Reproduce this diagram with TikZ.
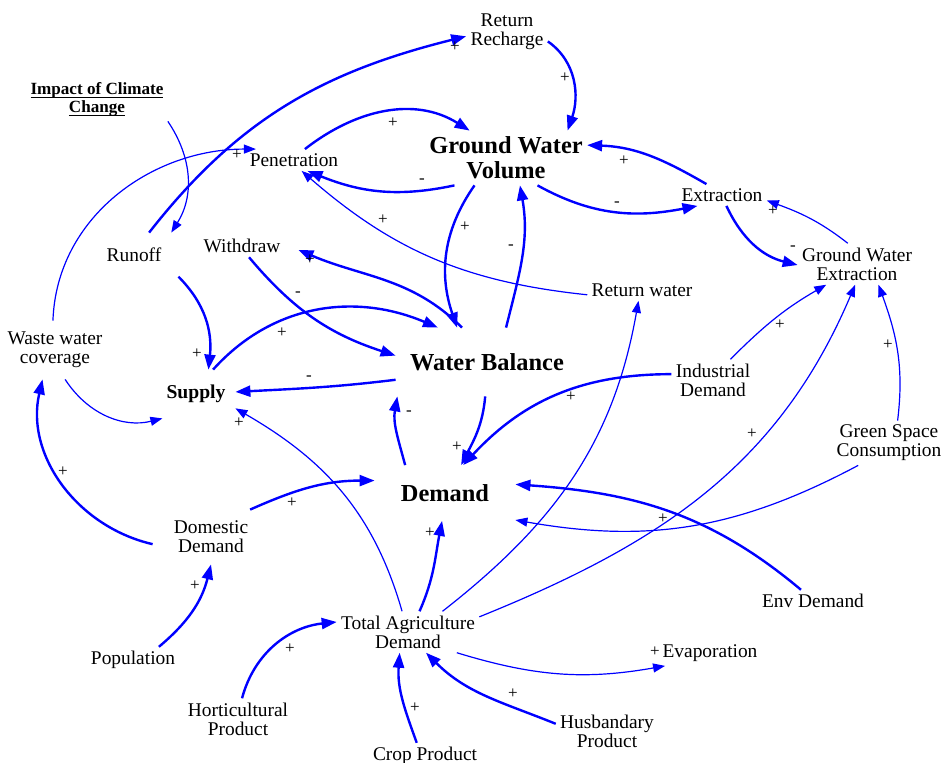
\documentclass[tikz,border=0pt]{standalone}
\usepackage{fontspec}
\setmainfont{Liberation Serif}
\usetikzlibrary{arrows.meta}
\definecolor{linkblue}{RGB}{0,0,255}
\tikzset{
  var/.style={inner sep=2pt, align=center, yshift=-1pt, font=\fontsize{9.7}{9.5}\selectfont},
  key/.style={inner sep=2pt, align=center, font=\fontsize{12.2}{12.5}\selectfont\bfseries},
  sgn/.style={inner sep=0pt, font=\fontsize{8.5}{8.5}\selectfont},
  thk/.style={color=linkblue, line width=1.2pt, -{Triangle[length=7.5pt,width=5.5pt]}},
  thn/.style={color=linkblue, line width=0.6pt, -{Triangle[length=6pt,width=4.5pt]}}
}
\begin{document}
\begin{tikzpicture}[x=0.5pt,y=-0.5pt]
  \useasboundingbox (0,0) rectangle (945,763);
  \node[var] (rr) at (507,30) {Return\\Recharge};
  \node[var, font=\fontsize{8.55}{9}\selectfont\bfseries] (icc) at (97,104) {\underline{\smash{Impact of Climate}}\\\underline{\smash{Change}}};
  \node[var] (pen) at (294,158) {Penetration};
  \node[key, minimum height=27pt] (gwv) at (506,158) {Ground Water\\Volume};
  \node[var] (ext) at (722,193) {Extraction};
  \node[var, minimum width=44pt, minimum height=22pt] (run) at (134,253) {Runoff};
  \node[var, minimum width=56pt] (wd) at (242,244) {Withdraw};
  \node[var] (gwe) at (857,262) {Ground Water\\Extraction};
  \node[var] (rw) at (642,288) {Return water};
  \node[var, minimum height=29pt] (wwc) at (55,348) {Waste water\\coverage};
  \node[key, minimum width=91pt, minimum height=34pt] (wb) at (487,362) {Water Balance};
  \node[key, font=\fontsize{9.8}{10}\selectfont\bfseries, minimum width=39pt, minimum height=24pt] (sup) at (196,394) {Supply};
  \node[var] (ind) at (713,378) {Industrial\\Demand};
  \node[var] (gsc) at (889,441) {Green Space\\Consumption};
  \node[key, minimum width=70pt, minimum height=27.5pt] (dem) at (445,493) {Demand};
  \node[var, minimum width=58pt, minimum height=27pt] (dom) at (211,535) {Domestic\\Demand};
  \node[var] (env) at (813,599) {Env Demand};
  \node[var] (tad) at (408,630) {Total Agriculture\\Demand};
  \node[var] (eva) at (710,651) {Evaporation};
  \node[var] (pop) at (133,658) {Population};
  \node[var] (hor) at (238,717) {Horticultural\\Product};
  \node[var] (hus) at (607,729) {Husbandary\\Product};
  \node[var] (crop) at (425,754) {Crop Product};

  \draw[thk] (run.56) to[out=52,in=194] (rr.186);
  \draw[thk] (rr.-13) to[out=-35,in=71] (gwv.24);
  \draw[thn] (icc.south east) to[out=-56,in=58] (run.31);
  \draw[thn] (wwc.94) to[out=88,in=180] (pen.164);
  \draw[thk] (pen.45) to[out=38,in=148] (gwv.143);
  \draw[thk] (gwv.208) to[out=192,in=-22] (pen.-39);
  \draw[thn] (rw.185) to[out=174,in=-41] (pen.-55);
  \draw[thk] (gwv.221) to[out=-125,in=109] (wb.131);
  \draw[thk] (wb.61) to[out=76,in=-80] (gwv.-63);
  \draw[thk] (gwv.-41) to[out=-29,in=191] (ext.204);
  \draw[thk] (ext.145) to[out=150,in=-2] (gwv.9);
  \draw[thk] (ext.-68) to[out=-65,in=166] (gwe.181);
  \draw[thn] (gwe.114) to[out=142,in=-20] (ext.-7);
  \draw[thn] (ind.50) to[out=45,in=210] (gwe.214);
  \draw[thn] (tad.12) to[out=22,in=247] (gwe.-95);
  \draw[thn] (gsc.69) to[out=83,in=-70] (gwe.-44);
  \draw[thn] (gsc.216) to[out=208,in=-10] (dem.-21);
  \draw[thk] (env.137) to[out=140,in=-4] (dem.7);
  \draw[thk] (ind.172) to[out=180,in=47] (dem.57);
  \draw[thk] (wb.-93) to[out=-95,in=63] (dem.60);
  \draw[thk] (dem.145) to[out=105,in=-100] (wb.201);
  \draw[thk] (wb.191) to[out=187,in=3] (sup.3);
  \draw[thk] (sup.55) to[out=48,in=157] (wb.145);
  \draw[thk] (wd.-58) to[out=-50,in=162] (wb.176);
  \draw[thk] (wb.126) to[out=135,in=-23] (wd.-4);
  \draw[thk] (run.-26) to[out=-45,in=84] (sup.63);
  \draw[thn] (wwc.-71) to[out=-57,in=194] (sup.216);
  \draw[thn] (tad.106) to[out=106,in=-30] (sup.-20);
  \draw[thk] (dom.187) to[out=167,in=-103] (wwc.247);
  \draw[thk] (dom.35) to[out=24,in=180] (dem.170);
  \draw[thk] (pop.27) to[out=40,in=-104] (dom.south);
  \draw[thk] (tad.61) to[out=66,in=-101] (dem.-96);
  \draw[thn] (tad.31) to[out=38,in=-100] (rw.-108);
  \draw[thn] (tad.-23) to[out=-17,in=190] (eva.196);
  \draw[thk] (hor.79) to[out=75,in=186] (tad.172);
  \draw[thk] (crop.122) to[out=110,in=-94] (tad.-112);
  \draw[thk] (hus.172) to[out=158,in=-45] (tad.-49);

  \node[sgn] (s1) at (455,47) {+};
  \node[sgn] (s2) at (565,78) {+};
  \node[sgn] (s3) at (237,155) {+};
  \node[sgn] (s4) at (393,123) {+};
  \node[sgn] (s5) at (422,181) {-};
  \node[sgn] (s6) at (383,220) {+};
  \node[sgn] (s7) at (465,227) {+};
  \node[sgn] (s8) at (511,247) {-};
  \node[sgn] (s9) at (617,204) {-};
  \node[sgn] (s10) at (624,161) {+};
  \node[sgn] (s11) at (793,248) {-};
  \node[sgn] (s12) at (773,211) {+};
  \node[sgn] (s13) at (780,325) {+};
  \node[sgn] (s14) at (752,434) {+};
  \node[sgn] (s15) at (888,345) {+};
  \node[sgn] (s16) at (663,519) {+};
  \node[sgn] (s17) at (571,397) {+};
  \node[sgn] (s18) at (457,447) {+};
  \node[sgn] (s19) at (409,413) {-};
  \node[sgn] (s20) at (309,378) {-};
  \node[sgn] (s21) at (282,333) {+};
  \node[sgn] (s22) at (298,294) {-};
  \node[sgn] (s23) at (310,260) {+};
  \node[sgn] (s24) at (197,354) {+};
  \node[sgn] (s25) at (239,423) {+};
  \node[sgn] (s26) at (63,472) {+};
  \node[sgn] (s27) at (292,503) {+};
  \node[sgn] (s28) at (195,586) {+};
  \node[sgn] (s29) at (430,533) {+};
  \node[sgn] (s30) at (655,652) {+};
  \node[sgn] (s31) at (290,649) {+};
  \node[sgn] (s32) at (415,708) {+};
  \node[sgn] (s33) at (513,694) {+};
\end{tikzpicture}
\end{document}
